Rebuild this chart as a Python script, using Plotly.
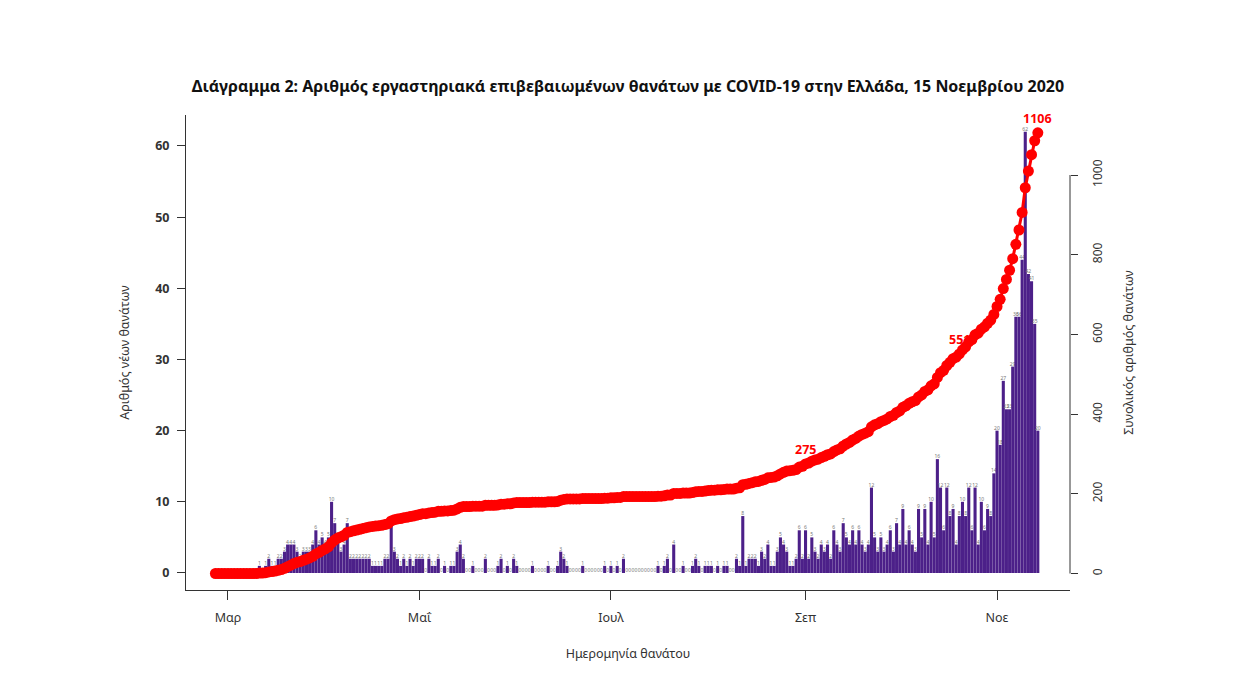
import numpy as np
import pandas as pd
import plotly.graph_objects as go

# ---- data ----
start_date = "2020-02-26"
end_date = "2020-11-14"

deaths_feb = [0, 0, 0, 0]
deaths_mar = [0, 0, 0, 0, 0, 0, 0, 0, 0, 0,
              1, 0, 1, 2, 1, 1, 2, 2, 3, 4, 4, 4, 3, 2, 3, 3, 3, 4, 6, 4, 5]
deaths_apr = [4, 5, 10, 7, 5, 3, 4, 7, 2, 2, 2, 2, 2, 2, 2, 1, 1, 1, 1, 2,
              2, 7, 3, 2, 1, 2, 1, 2, 1, 2]
deaths_may = [2, 2, 0, 2, 1, 1, 2, 0, 1, 0, 1, 1, 3, 4, 2, 0, 0, 1, 0, 0,
              0, 2, 0, 0, 0, 1, 2, 0, 1, 0, 2]
deaths_jun = [1, 0, 0, 0, 0, 1, 0, 0, 0, 0, 1, 0, 0, 1, 3, 2, 1, 0, 0, 0,
              0, 1, 0, 0, 0, 0, 0, 0, 1, 0]
deaths_jul = [1, 0, 1, 0, 2, 0, 0, 0, 0, 0, 0, 0, 0, 0, 0, 1, 0, 1, 2, 0,
              4, 0, 0, 1, 0, 0, 1, 2, 1, 0, 1]
deaths_aug = [1, 1, 0, 1, 0, 1, 1, 0, 0, 2, 1, 8, 1, 2, 2, 2, 1, 3, 2, 4,
              1, 1, 3, 5, 4, 3, 1, 1, 2, 6, 2]
deaths_sep = [6, 2, 5, 3, 2, 4, 3, 4, 2, 6, 4, 3, 7, 5, 4, 6, 4, 6, 4, 3,
              4, 12, 5, 3, 5, 3, 4, 6, 3, 7]
deaths_oct = [4, 9, 4, 6, 4, 3, 9, 5, 9, 4, 10, 5, 16, 12, 6, 12, 8, 9, 4, 8,
              10, 8, 12, 6, 12, 4, 10, 6, 9, 8, 14]
deaths_nov = [20, 18, 27, 23, 23, 29, 36, 36, 44, 62, 42, 41, 35, 20]

label_dates = ["2020-09-01", "2020-10-20", "2020-11-14"]

month_ticks = ["2020-03-01", "2020-05-01", "2020-07-01", "2020-09-01", "2020-11-01"]
month_labels = ["Μαρ", "Μαΐ", "Ιουλ", "Σεπ", "Νοε"]

title_text = ("Διάγραμμα 2: Αριθμός εργαστηριακά επιβεβαιωμένων θανάτων με "
              "COVID-19 στην Ελλάδα, 15 Νοεμβρίου 2020")

# ---- build ----
daily = (deaths_feb + deaths_mar + deaths_apr + deaths_may + deaths_jun +
         deaths_jul + deaths_aug + deaths_sep + deaths_oct + deaths_nov)
dates = pd.date_range(start_date, end_date, freq="D")
cumulative = np.cumsum(daily)
cum_series = pd.Series(cumulative, index=dates)

FONT = "Noto Sans"
OFF = 8  # default page body margin
W, H = 1260 - OFF, 678 - OFF
L, R, T, B = 186 - OFF, 1070 - OFF, 115 - OFF, 590 - OFF

fig = go.Figure()
fig.add_trace(go.Bar(
    x=dates, y=daily, yaxis="y",
    marker=dict(color="#4C2089", line=dict(width=0)),
    text=[str(v) for v in daily], textposition="outside", textangle=0,
    constraintext="none", cliponaxis=False,
    textfont=dict(size=5, color="#777777", family=FONT),
    showlegend=False,
))
fig.add_trace(go.Scatter(
    x=dates, y=cumulative, yaxis="y2", mode="lines+markers",
    line=dict(color="#FF0000", width=3),
    marker=dict(color="#FF0000", size=11),
    showlegend=False,
))

annotations = []
for d in label_dates:
    v = int(cum_series.loc[d])
    annotations.append(dict(
        x=d, y=v, xref="x", yref="y2", text=f"<b>{v}</b>", showarrow=False,
        yshift=14, font=dict(size=12.5, color="#FF0000", family=FONT),
    ))

fig.update_layout(
    width=W, height=H,
    margin=dict(l=L, r=W - R, t=T, b=H - B, pad=0),
    paper_bgcolor="white", plot_bgcolor="white",
    font=dict(family=FONT, color="#222222"),
    bargap=0.02,
    title=dict(text=f"<b>{title_text}</b>", x=0.5, xref="paper",
               y=1 - (86 - OFF) / H, yref="container", yanchor="middle",
               font=dict(size=16, color="#111111", family=FONT)),
    xaxis=dict(
        type="date",
        range=["2020-02-16 15:00", "2020-11-24 06:00"],
        tickvals=month_ticks, ticktext=month_labels,
        ticks="outside", ticklen=9, tickcolor="#333333",
        ticklabelstandoff=7,
        showline=True, linecolor="#333333", linewidth=1,
        showgrid=False, zeroline=False,
        tickfont=dict(size=12.5, color="#333333"),
        title=dict(text="Ημερομηνία θανάτου", standoff=24,
                   font=dict(size=12.5, color="#333333")),
    ),
    yaxis=dict(
        range=[-2.39, 64.35],
        tickvals=[0, 10, 20, 30, 40, 50, 60],
        ticks="outside", ticklen=8, tickcolor="#333333",
        ticklabelstandoff=5,
        showline=True, linecolor="#333333", linewidth=1,
        showgrid=False, zeroline=False,
        tickfont=dict(size=12.5, color="#333333", weight="bold"),
        title=dict(text="Αριθμός νέων θανάτων", standoff=22,
                   font=dict(size=12.5, color="#333333")),
    ),
    yaxis2=dict(
        overlaying="y", side="right",
        range=[-41.4, 1150.6],
        tickvals=[0, 200, 400, 600, 800, 1000],
        ticks="outside", ticklen=7, tickcolor="#333333",
        tickangle=-90, ticklabelstandoff=10,
        showline=False, showgrid=False, zeroline=False,
        tickfont=dict(size=12, color="#333333"),
        title=dict(text="Συνολικός αριθμός θανάτων", standoff=18,
                   font=dict(size=12.5, color="#333333")),
    ),
    shapes=[dict(type="line", xref="paper", yref="y2", x0=1, x1=1,
                 y0=0, y1=1000, line=dict(color="#333333", width=1))],
    annotations=annotations,
)

fig.write_html("out.html")
